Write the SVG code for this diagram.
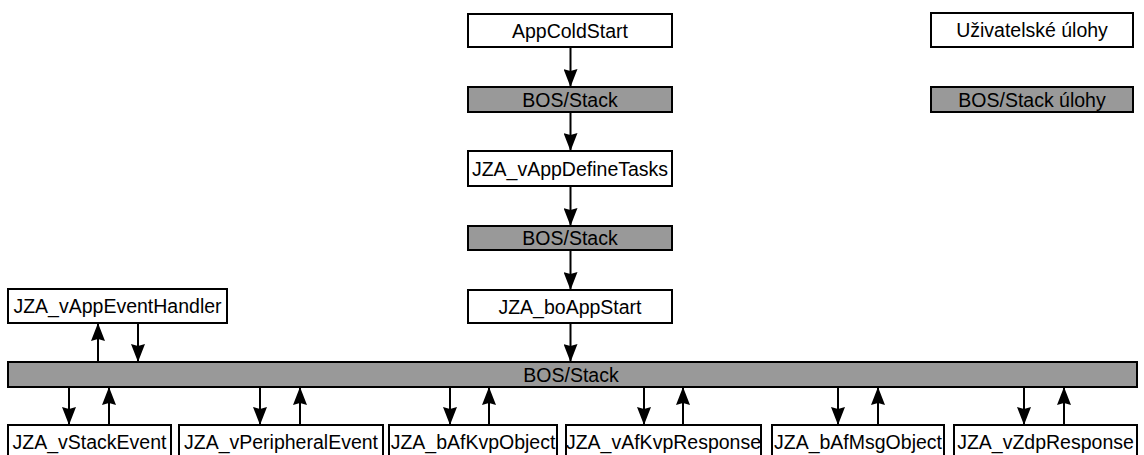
<svg xmlns="http://www.w3.org/2000/svg" width="1144" height="455" viewBox="0 0 1144 455">
  <defs>
    <marker id="arrow" viewBox="0 0 18 14" refX="18" refY="7" markerWidth="18" markerHeight="14" markerUnits="userSpaceOnUse" orient="auto">
      <path d="M0,0 L18,7 L0,14 L2,7 Z" fill="#000"/>
    </marker>
    <style>
      rect { stroke: #000; stroke-width: 2; }
      .user { fill: #ffffff; }
      .bos { fill: #999999; }
      text { font-family: "Liberation Sans", Arial, sans-serif; font-size: 19.5px; fill: #000; text-anchor: middle; }
      .conn line { stroke: #000; stroke-width: 2; marker-end: url(#arrow); }
    </style>
  </defs>
  <rect width="1144" height="455" fill="#ffffff" style="stroke:none"/>

  <!-- startup sequence -->
  <g id="appColdStart"><rect class="user" x="468" y="14" width="204" height="33"/><text x="570" y="38">AppColdStart</text></g>
  <g id="bosStack1"><rect class="bos" x="468" y="87" width="204" height="25"/><text x="570" y="106.5">BOS/Stack</text></g>
  <g id="defineTasks"><rect class="user" x="468" y="151" width="204" height="35"/><text x="570" y="175.5">JZA_vAppDefineTasks</text></g>
  <g id="bosStack2"><rect class="bos" x="468" y="226" width="204" height="24"/><text x="570" y="245">BOS/Stack</text></g>
  <g id="boAppStart"><rect class="user" x="468" y="290" width="204" height="33"/><text x="570" y="314">JZA_boAppStart</text></g>

  <!-- legend -->
  <g id="legendUser"><rect class="user" x="931" y="13" width="202" height="34"/><text x="1032" y="37">Uživatelské úlohy</text></g>
  <g id="legendBos"><rect class="bos" x="931" y="87" width="202" height="25"/><text x="1032" y="106.5">BOS/Stack úlohy</text></g>

  <!-- event handler and stack bar -->
  <g id="appEventHandler"><rect class="user" x="8" y="289" width="219" height="34"/><text x="117.5" y="313">JZA_vAppEventHandler</text></g>
  <g id="bosStackBar"><rect class="bos" x="8" y="362" width="1129" height="25"/><text x="571" y="381.5">BOS/Stack</text></g>

  <!-- callbacks -->
  <g id="stackEvent"><rect class="user" x="8" y="425" width="163" height="40"/><text x="89.5" y="449">JZA_vStackEvent</text></g>
  <g id="peripheralEvent"><rect class="user" x="179" y="425" width="204" height="40"/><text x="281" y="449">JZA_vPeripheralEvent</text></g>
  <g id="afKvpObject"><rect class="user" x="389" y="425" width="168" height="40"/><text x="473" y="449">JZA_bAfKvpObject</text></g>
  <g id="afKvpResponse"><rect class="user" x="566" y="425" width="195" height="40"/><text x="663.5" y="449">JZA_vAfKvpResponse</text></g>
  <g id="afMsgObject"><rect class="user" x="772" y="425" width="172" height="40"/><text x="858" y="449">JZA_bAfMsgObject</text></g>
  <g id="zdpResponse"><rect class="user" x="954" y="425" width="183" height="40"/><text x="1045.5" y="449">JZA_vZdpResponse</text></g>

  <!-- connectors -->
  <g id="connectors" class="conn">
    <line x1="570.5" y1="47" x2="570.5" y2="87"/>
    <line x1="570.5" y1="112" x2="570.5" y2="151"/>
    <line x1="570.5" y1="186" x2="570.5" y2="226"/>
    <line x1="570.5" y1="250" x2="570.5" y2="290"/>
    <line x1="570.5" y1="323" x2="570.5" y2="362"/>
    <line x1="98" y1="362" x2="98" y2="323"/>
    <line x1="138" y1="323" x2="138" y2="362"/>
    <line x1="69" y1="387" x2="69" y2="425"/>
    <line x1="109" y1="425" x2="109" y2="387"/>
    <line x1="260" y1="387" x2="260" y2="425"/>
    <line x1="300" y1="425" x2="300" y2="387"/>
    <line x1="450" y1="387" x2="450" y2="425"/>
    <line x1="489" y1="425" x2="489" y2="387"/>
    <line x1="644" y1="387" x2="644" y2="425"/>
    <line x1="683" y1="425" x2="683" y2="387"/>
    <line x1="838" y1="387" x2="838" y2="425"/>
    <line x1="878" y1="425" x2="878" y2="387"/>
    <line x1="1024" y1="387" x2="1024" y2="425"/>
    <line x1="1064" y1="425" x2="1064" y2="387"/>
  </g>
</svg>
